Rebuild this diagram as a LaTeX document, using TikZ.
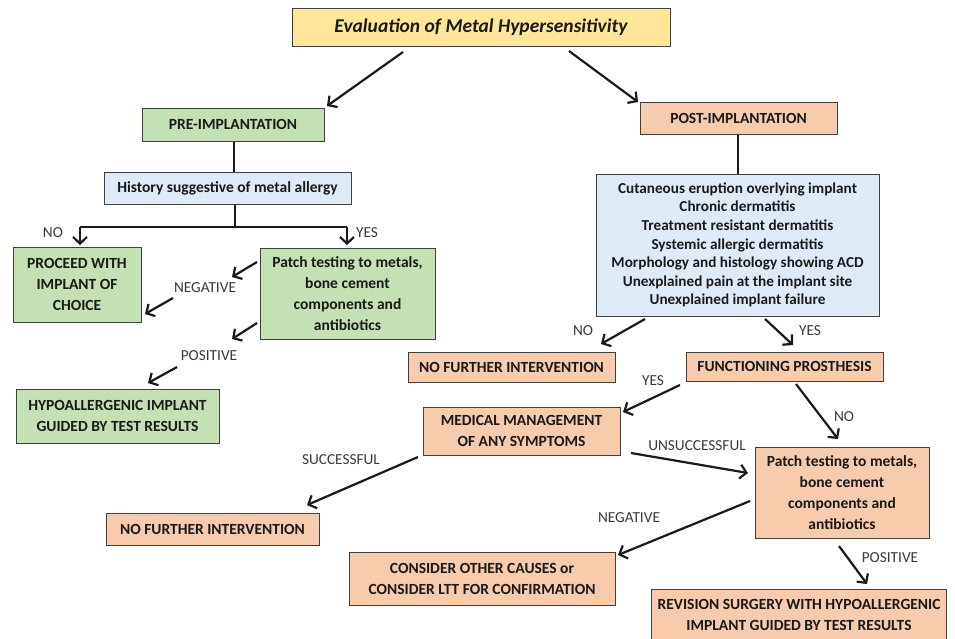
\documentclass[tikz,border=0pt]{standalone}
\usepackage{fontspec}
\setmainfont{Carlito}
\usetikzlibrary{arrows.meta}
\definecolor{ttl}{HTML}{FFE699}
\definecolor{grn}{HTML}{C5E0B4}
\definecolor{blu}{HTML}{DEEBF7}
\definecolor{sal}{HTML}{F8CBAD}
\definecolor{bord}{HTML}{404040}
\definecolor{ink}{HTML}{1A1A1A}
\definecolor{lbl}{HTML}{3A3A3A}
\tikzset{
  box/.style={draw=bord, line width=1pt, align=center, inner sep=0pt, text=ink,
    font=\bfseries\fontsize{15.5}{21}\selectfont},
  arr/.style={draw=ink, line width=2.2pt, -{Straight Barb[length=6.5pt,width=14pt]}},
  ln/.style={draw=ink, line width=2.2pt},
  lab/.style={text=lbl, inner sep=0pt, font=\fontsize{15.3}{17}\selectfont},
}
\begin{document}
\begin{tikzpicture}[x=1pt,y=-1pt]
\useasboundingbox (0,0) rectangle (955,638);
\clip (0,0) rectangle (955,638);
\fill[white] (0,0) rectangle (955,638);

% boxes
\node[box, fill=ttl, minimum width=378pt, minimum height=38pt, font=\bfseries\itshape\fontsize{19.5}{22}\selectfont] (title) at (481,27) {Evaluation of Metal Hypersensitivity};
\node[box, fill=grn, minimum width=182pt, minimum height=33pt] (pre) at (233,124.5) {PRE-IMPLANTATION};
\node[box, fill=blu, minimum width=247pt, minimum height=32pt] (hist) at (227.5,188) {History suggestive of metal allergy};
\node[box, fill=grn, minimum width=128pt, minimum height=75pt] (proceed) at (77,284.5) {PROCEED WITH\\IMPLANT OF\\CHOICE};
\node[box, fill=grn, minimum width=175pt, minimum height=91pt] (patchg) at (347.5,293.5) {Patch testing to metals,\\bone cement\\components and\\antibiotics};
\node[box, fill=grn, minimum width=203pt, minimum height=54pt] (hypo) at (117.5,416) {HYPOALLERGENIC IMPLANT\\GUIDED BY TEST RESULTS};

\node[box, fill=sal, minimum width=197pt, minimum height=32pt] (post) at (738.5,118) {POST-IMPLANTATION};
\node[box, fill=blu, minimum width=283pt, minimum height=142pt, font=\bfseries\fontsize{15.2}{18.6}\selectfont] (sym) at (737.5,245) {Cutaneous eruption overlying implant\\Chronic dermatitis\\Treatment resistant dermatitis\\Systemic allergic dermatitis\\Morphology and histology showing ACD\\Unexplained pain at the implant site\\Unexplained implant failure};
\node[box, fill=sal, minimum width=207pt, minimum height=30pt] (nofi1) at (511.5,367) {NO FURTHER INTERVENTION};
\node[box, fill=sal, minimum width=197pt, minimum height=29pt] (func) at (784.5,366.5) {FUNCTIONING PROSTHESIS};
\node[box, fill=sal, minimum width=197pt, minimum height=48pt] (med) at (521.5,431) {MEDICAL MANAGEMENT\\OF ANY SYMPTOMS};
\node[box, fill=sal, minimum width=174pt, minimum height=91pt] (patchs) at (842,492.5) {Patch testing to metals,\\bone cement\\components and\\antibiotics};
\node[box, fill=sal, minimum width=213pt, minimum height=32pt] (nofi2) at (212.5,529) {NO FURTHER INTERVENTION};
\node[box, fill=sal, minimum width=266pt, minimum height=53pt] (consider) at (482,578.5) {CONSIDER OTHER CAUSES or\\CONSIDER LTT FOR CONFIRMATION};
\node[box, fill=sal, minimum width=295pt, minimum height=50pt, anchor=north west] (revision) at (651,589) {REVISION SURGERY WITH HYPOALLERGENIC\\IMPLANT GUIDED BY TEST RESULTS};

% labels
\node[lab] (lno1) at (53,233) {NO};
\node[lab] (lyes1) at (367,233) {YES};
\node[lab] (lneg1) at (205,288) {NEGATIVE};
\node[lab] (lpos1) at (209,356) {POSITIVE};
\node[lab] (lno2) at (583,331) {NO};
\node[lab] (lyes2) at (810,331) {YES};
\node[lab] (lyes3) at (653,381) {YES};
\node[lab] (lno3) at (844,417) {NO};
\node[lab] (lunsucc) at (697,446) {UNSUCCESSFUL};
\node[lab] (lsucc) at (341,460) {SUCCESSFUL};
\node[lab] (lneg2) at (629,518) {NEGATIVE};
\node[lab] (lpos2) at (890,558) {POSITIVE};

% connector end points
\coordinate (t1) at (403,52);   \coordinate (t1e) at (327,106);
\coordinate (t2) at (569,51);   \coordinate (t2e) at (638,102);
\coordinate (hb) at (235,227);
\coordinate (bl) at (80,227);   \coordinate (ble) at (80,245);
\coordinate (br) at (347,227);  \coordinate (bre) at (347,245);
\coordinate (n1s) at (257,262); \coordinate (n1e) at (232,277);
\coordinate (n2s) at (173,298); \coordinate (n2e) at (145,314);
\coordinate (p1s) at (257,323); \coordinate (p1e) at (232,339);
\coordinate (p2s) at (177,367); \coordinate (p2e) at (148,383);
\coordinate (s1s) at (645,319); \coordinate (s1e) at (601,344);
\coordinate (s2s) at (765,319); \coordinate (s2e) at (793,345);
\coordinate (f1s) at (680,385); \coordinate (f1e) at (623,412);
\coordinate (f2s) at (796,384); \coordinate (f2e) at (838,439);
\coordinate (m1s) at (631,453); \coordinate (m1e) at (748,473);
\coordinate (m2s) at (418,457); \coordinate (m2e) at (307,505);
\coordinate (c1s) at (750,501); \coordinate (c1e) at (618,555);
\coordinate (c2s) at (839,546); \coordinate (c2e) at (867,584);

% connectors
\draw[arr] (t1) -- (t1e);
\draw[arr] (t2) -- (t2e);
\draw[ln] (pre.south -| 234,0) -- (hist.north -| 234,0);
\draw[ln] (hist.south -| hb) -- (hb);
\draw[ln] (bl) -- (br);
\draw[arr] (bl) -- (ble);
\draw[arr] (br) -- (bre);
\draw[arr] (n1s) -- (n1e);
\draw[arr] (n2s) -- (n2e);
\draw[arr] (p1s) -- (p1e);
\draw[arr] (p2s) -- (p2e);
\draw[ln] (post.south -| 738,0) -- (sym.north -| 738,0);
\draw[arr] (s1s) -- (s1e);
\draw[arr] (s2s) -- (s2e);
\draw[arr] (f1s) -- (f1e);
\draw[arr] (f2s) -- (f2e);
\draw[arr] (m1s) -- (m1e);
\draw[arr] (m2s) -- (m2e);
\draw[arr] (c1s) -- (c1e);
\draw[arr] (c2s) -- (c2e);
\end{tikzpicture}
\end{document}
